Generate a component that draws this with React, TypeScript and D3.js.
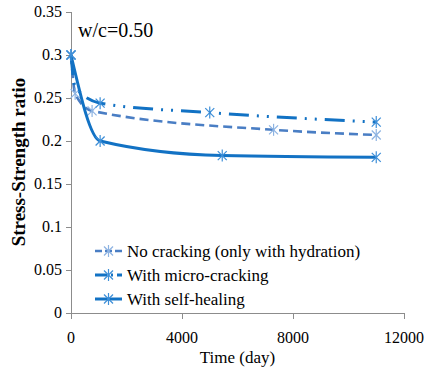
import React from "react";
import * as d3 from "d3";

const xTicks = [0, 4000, 8000, 12000];
const yTicks = [0, 0.05, 0.1, 0.15, 0.2, 0.25, 0.3, 0.35];

const noCrackDays = [0, 150, 760, 7300, 11000];
const noCrackRatio = [0.3, 0.255, 0.235, 0.213, 0.207];

const microDays = [0, 150, 1050, 5000, 11000];
const microRatio = [0.3, 0.263, 0.244, 0.233, 0.222];
const microMarkerIdx = [0, 2, 3, 4];

const healDays = [0, 1050, 5450, 11000];
const healRatio = [0.3, 0.2, 0.183, 0.181];

const seriesNames = [
  "No cracking (only with hydration)",
  "With micro-cracking",
  "With self-healing",
];

const W = 428, H = 374;
const x = d3.scaleLinear().domain([0, 12000]).range([71, 404]);
const y = d3.scaleLinear().domain([0, 0.35]).range([313, 12]);

const FONT = "Liberation Serif";
const ts = { fontFamily: FONT };

function Star({ cx, cy, color, r = 6 }: { cx: number; cy: number; color: string; r?: number }) {
  const d = r * 0.75;
  return (
    <g stroke={color} strokeWidth={1.2}>
      <line x1={cx - d} y1={cy - d} x2={cx + d} y2={cy + d} />
      <line x1={cx - d} y1={cy + d} x2={cx + d} y2={cy - d} />
      <line x1={cx} y1={cy - r} x2={cx} y2={cy + r} />
    </g>
  );
}

export default function App() {
  const line = d3
    .line<[number, number]>()
    .x((d) => x(d[0]))
    .y((d) => y(d[1]))
    .curve(d3.curveMonotoneX);

  const series = [
    {
      pts: noCrackDays.map((d, i) => [d, noCrackRatio[i]] as [number, number]),
      markers: noCrackDays.map((_, i) => i),
      stroke: "#4A7EC4",
      marker: "#8DB3E2",
      dash: "9 5",
      width: 2.6,
    },
    {
      pts: microDays.map((d, i) => [d, microRatio[i]] as [number, number]),
      markers: microMarkerIdx,
      stroke: "#1272C4",
      marker: "#3E8FD8",
      dash: "20 8 2 8 2 8",
      width: 3,
    },
    {
      pts: healDays.map((d, i) => [d, healRatio[i]] as [number, number]),
      markers: healDays.map((_, i) => i),
      stroke: "#1272C4",
      marker: "#3E8FD8",
      dash: undefined as string | undefined,
      width: 3,
    },
  ];

  const legendY = [251, 275, 299];

  return (
    <svg width={W} height={H} style={{ position: "absolute", left: 0, top: 0, background: "#fff" }}>
      {/* axes */}
      <g stroke="#8C8C8C" strokeWidth={1}>
        <line x1={71.5} y1={y(0.35)} x2={71.5} y2={313.5} />
        <line x1={71} y1={313.5} x2={404} y2={313.5} />
        {yTicks.map((t) => (
          <line key={"yt" + t} x1={66} x2={71.5} y1={Math.round(y(t)) + 0.5} y2={Math.round(y(t)) + 0.5} />
        ))}
        {xTicks.map((t) => (
          <line key={"xt" + t} x1={Math.round(x(t)) + 0.5} x2={Math.round(x(t)) + 0.5} y1={313} y2={319} />
        ))}
      </g>
      {yTicks.map((t) => (
        <text key={"yl" + t} x={62} y={y(t) + 5} textAnchor="end" fontSize={16} fill="#000" style={ts}>
          {t === 0 ? "0" : String(t)}
        </text>
      ))}
      {xTicks.map((t) => (
        <text key={"xl" + t} x={x(t)} y={343} textAnchor="middle" fontSize={16} fill="#000" style={ts}>
          {t}
        </text>
      ))}
      <text x={x(6000)} y={363} textAnchor="middle" fontSize={17} fill="#000" style={ts}>
        Time (day)
      </text>
      <text
        transform={`translate(25, 162) rotate(-90)`}
        textAnchor="middle"
        fontSize={19}
        fontWeight="bold"
        fill="#000"
        style={ts}
      >
        Stress-Strength ratio
      </text>
      <text x={78} y={37} fontSize={20} fill="#000" style={ts}>
        w/c=0.50
      </text>

      {/* series */}
      {series.map((s, si) => (
        <g key={"s" + si}>
          <path
            d={line(s.pts) || ""}
            fill="none"
            stroke={s.stroke}
            strokeWidth={s.width}
            strokeDasharray={s.dash}
          />
          {s.markers.map((i) => (
            <Star key={i} cx={x(s.pts[i][0])} cy={y(s.pts[i][1])} color={s.marker} />
          ))}
        </g>
      ))}

      {/* legend */}
      {series.map((s, si) => (
        <g key={"l" + si}>
          <line
            x1={95}
            x2={122}
            y1={legendY[si]}
            y2={legendY[si]}
            stroke={s.stroke}
            strokeWidth={s.width}
            strokeDasharray={si === 1 ? "12 4 2 4" : s.dash ? "7 3" : undefined}
          />
          <Star cx={108.5} cy={legendY[si]} color={s.marker} />
          <text x={127} y={legendY[si] + 6} fontSize={17} fill="#000" style={ts}>
            {seriesNames[si]}
          </text>
        </g>
      ))}
    </svg>
  );
}
